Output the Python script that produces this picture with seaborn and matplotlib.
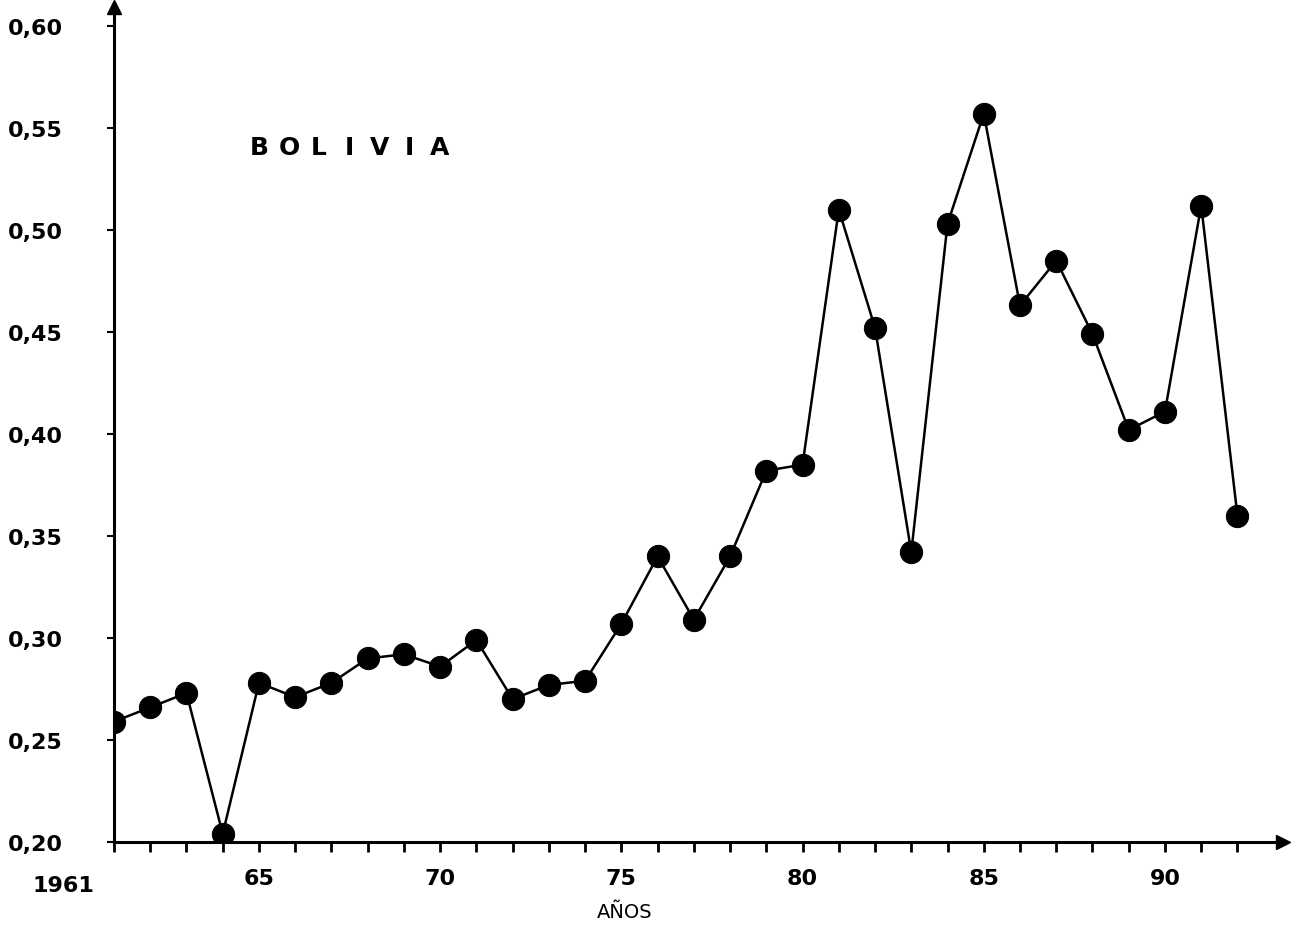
import numpy as np
import pandas as pd
import matplotlib
matplotlib.use("Agg")
import matplotlib.pyplot as plt
import seaborn as sns

# values
years = list(range(1961, 1993))
values = [0.259, 0.266, 0.273, 0.204, 0.278, 0.271, 0.278, 0.290, 0.292, 0.286,
          0.299, 0.270, 0.277, 0.279, 0.307, 0.340, 0.309, 0.340, 0.382, 0.385,
          0.510, 0.452, 0.342, 0.503, 0.557, 0.463, 0.485, 0.449, 0.402, 0.411,
          0.512, 0.360]
ytick_vals = [0.20, 0.25, 0.30, 0.35, 0.40, 0.45, 0.50, 0.55, 0.60]
xlabel_years = [1965, 1970, 1975, 1980, 1985, 1990]
xlabel_text = ["65", "70", "75", "80", "85", "90"]
title_letters = list("BOLIVIA")

df = pd.DataFrame({"year": years, "value": values})

sns.set_style("white")
plt.rcParams["font.family"] = ["DejaVu Sans"]
plt.rcParams["text.color"] = "black"
plt.rcParams["xtick.color"] = "black"
plt.rcParams["ytick.color"] = "black"

fig = plt.figure(figsize=(12.93, 9.28), dpi=100)
ax = fig.add_axes([114 / 1293, 85 / 928, 1169 / 1293, 835 / 928])

sns.lineplot(data=df, x="year", y="value", ax=ax, color="black", linewidth=1.8,
             marker="o", markersize=16, markeredgecolor="black",
             markerfacecolor="black")

ax.set_xlim(1961, 1961 + 1169 / 36.24)
ax.set_ylim(0.20, 0.20 + 835 / 2040)

# axes with arrows
for s in ["top", "right"]:
    ax.spines[s].set_visible(False)
for s in ["left", "bottom"]:
    ax.spines[s].set_linewidth(2.2)
    ax.spines[s].set_color("black")
ax.plot(1, 0, ">", color="black", markersize=10, transform=ax.transAxes, clip_on=False)
ax.plot(0, 1, "^", color="black", markersize=10, transform=ax.transAxes, clip_on=False)

# y ticks
ax.set_yticks(ytick_vals)
ax.set_yticklabels([f"{v:.2f}".replace(".", ",") for v in ytick_vals],
                   fontsize=16, fontweight="bold")
ax.tick_params(axis="y", direction="out", length=5, width=1.5, pad=32, left=True,
               labelcolor="black")

# x ticks every year, labels at 5-year marks
ax.set_xticks(years)
ax.set_xticklabels([xlabel_text[xlabel_years.index(y)] if y in xlabel_years else ""
                    for y in years], fontsize=16, fontweight="bold")
ax.tick_params(axis="x", direction="out", length=7, width=2, pad=12, bottom=True,
               labelcolor="black")
ax.text(1961 - 0.55, -0.04, "1961", transform=ax.get_xaxis_transform(),
        ha="right", va="top", fontsize=16, fontweight="bold")

ax.set_xlabel("")
ax.set_ylabel("")
fig.text(625 / 1293, 1 - 913 / 928, "AÑOS", ha="center", va="center", fontsize=14)

# spaced-out title letters
for i, ch in enumerate(title_letters):
    ax.text(1965.0 + i * 0.83, 0.5407, ch, ha="center", va="center",
            fontsize=18, fontweight="bold")

fig.savefig("out.png", dpi=100)
